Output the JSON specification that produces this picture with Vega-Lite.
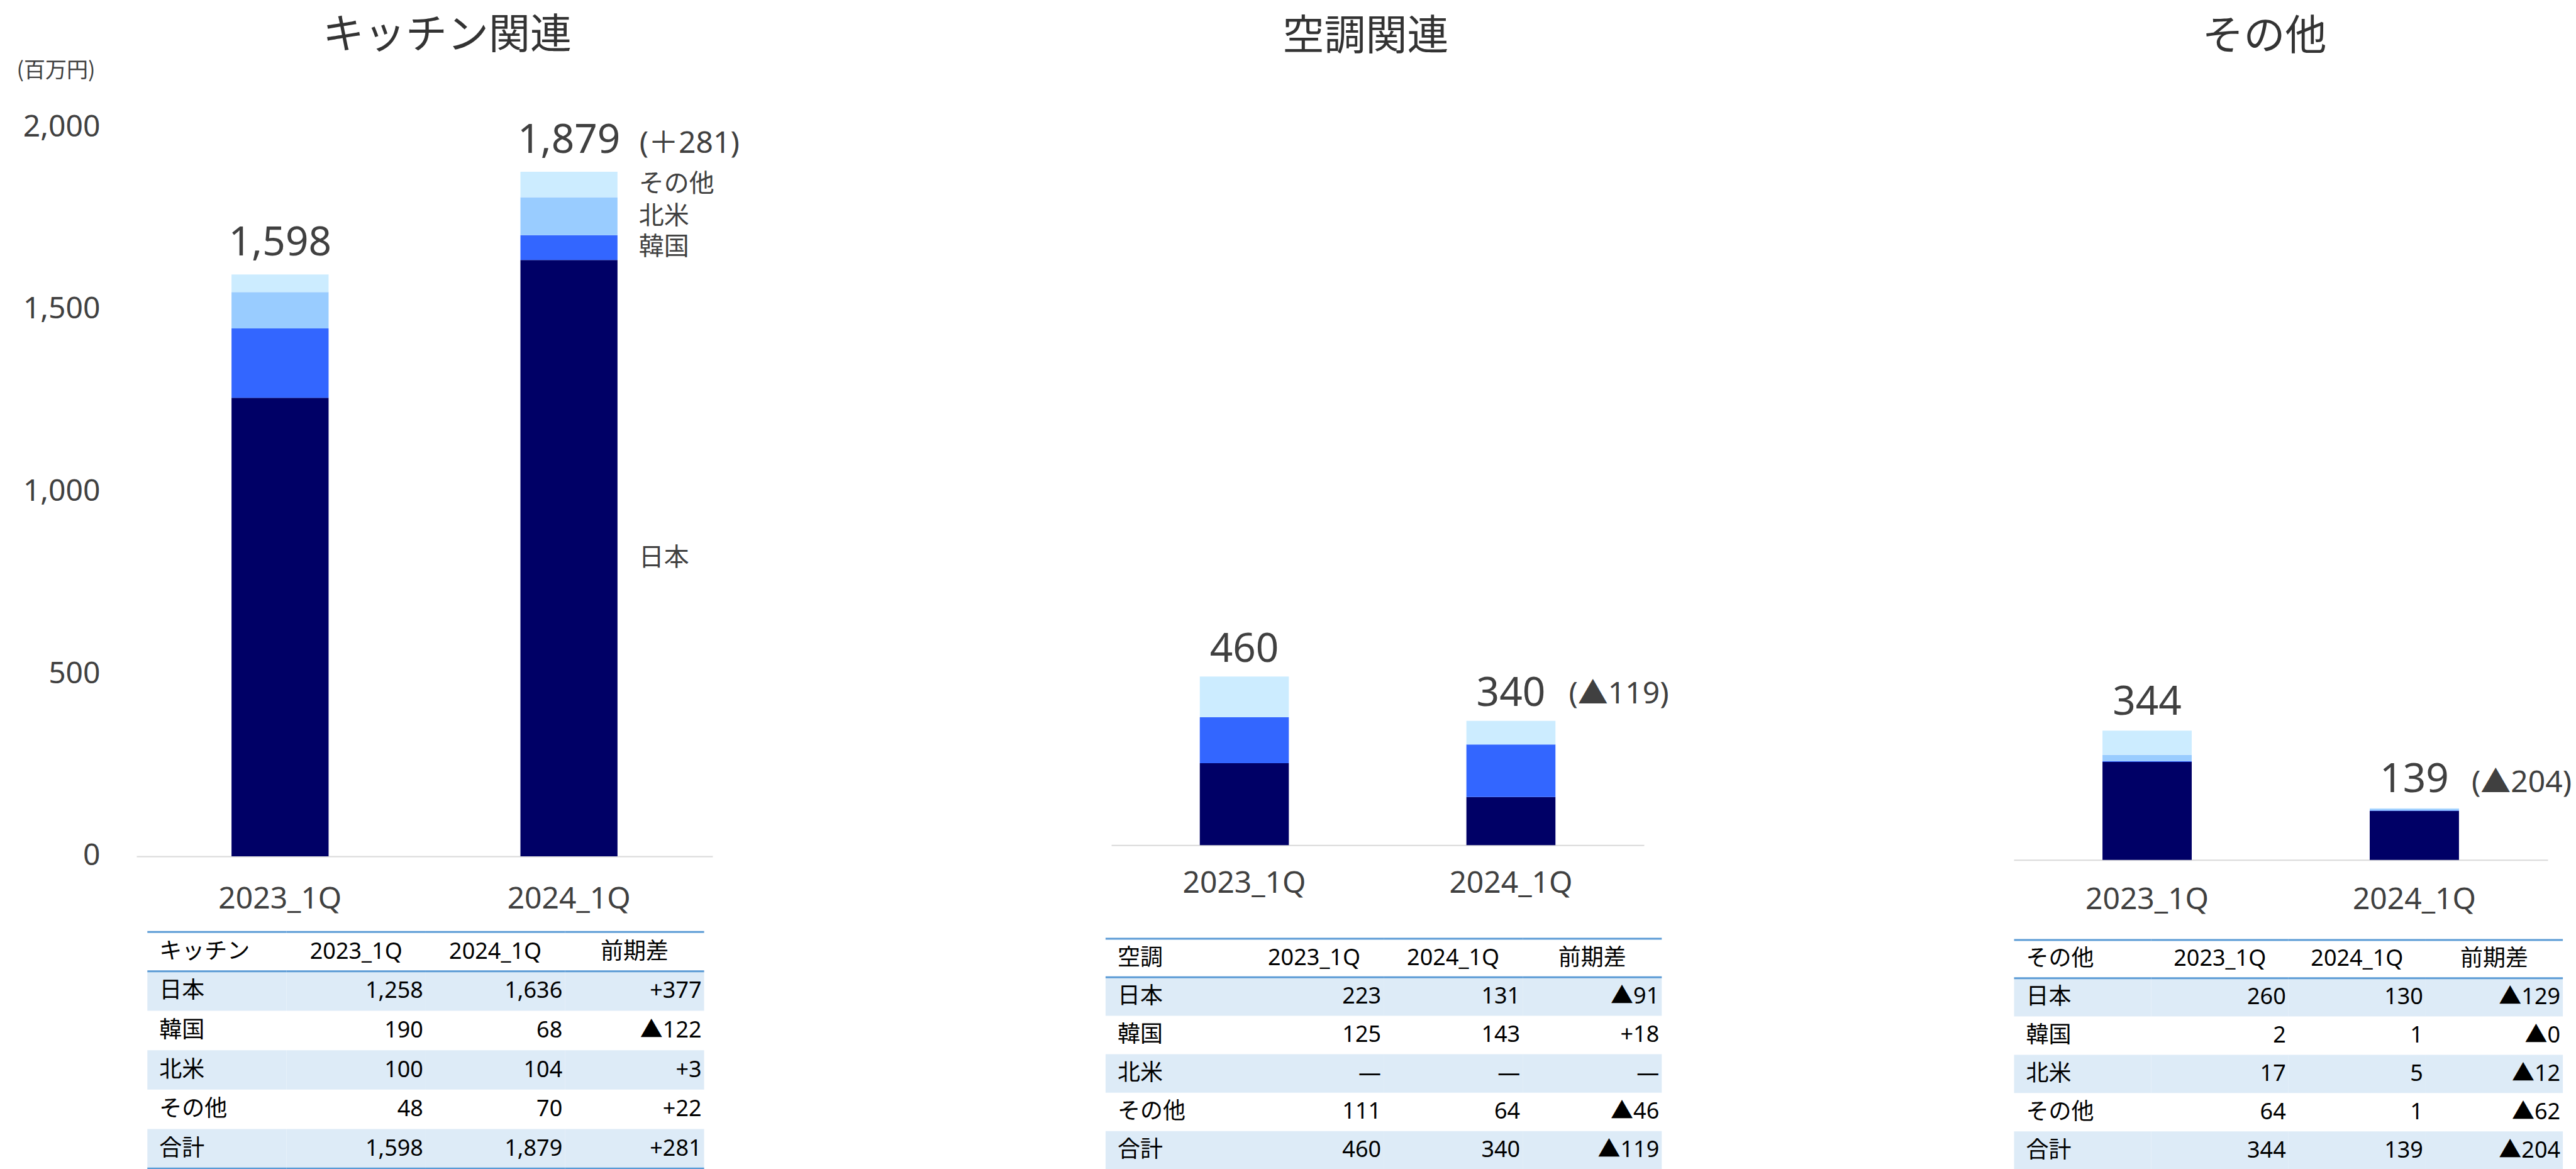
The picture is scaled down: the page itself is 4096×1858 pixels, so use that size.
{
"$schema": "https://vega.github.io/schema/vega-lite/v6.json",
"padding": {"left": 26, "top": 24, "right": 0, "bottom": 0},
"background": "white",
"bounds": "flush",
"spacing": 0,
"config": {"view": {"stroke": null}},
"datasets": {
"bars": [
{"seg":"キッチン","q":"2023_1Q","region":"日本","v":1258},
{"seg":"キッチン","q":"2023_1Q","region":"韓国","v":190},
{"seg":"キッチン","q":"2023_1Q","region":"北米","v":100},
{"seg":"キッチン","q":"2023_1Q","region":"その他","v":48},
{"seg":"キッチン","q":"2024_1Q","region":"日本","v":1636},
{"seg":"キッチン","q":"2024_1Q","region":"韓国","v":68},
{"seg":"キッチン","q":"2024_1Q","region":"北米","v":104},
{"seg":"キッチン","q":"2024_1Q","region":"その他","v":70},
{"seg":"空調","q":"2023_1Q","region":"日本","v":223},
{"seg":"空調","q":"2023_1Q","region":"韓国","v":125},
{"seg":"空調","q":"2023_1Q","region":"その他","v":111},
{"seg":"空調","q":"2024_1Q","region":"日本","v":131},
{"seg":"空調","q":"2024_1Q","region":"韓国","v":143},
{"seg":"空調","q":"2024_1Q","region":"その他","v":64},
{"seg":"その他","q":"2023_1Q","region":"日本","v":260},
{"seg":"その他","q":"2023_1Q","region":"韓国","v":2},
{"seg":"その他","q":"2023_1Q","region":"北米","v":17},
{"seg":"その他","q":"2023_1Q","region":"その他","v":64},
{"seg":"その他","q":"2024_1Q","region":"日本","v":130},
{"seg":"その他","q":"2024_1Q","region":"韓国","v":1},
{"seg":"その他","q":"2024_1Q","region":"北米","v":5},
{"seg":"その他","q":"2024_1Q","region":"その他","v":1}
],
"totals": [
{"seg":"キッチン","q":"2023_1Q","total":1598},
{"seg":"キッチン","q":"2024_1Q","total":1879,"diff":281},
{"seg":"空調","q":"2023_1Q","total":460},
{"seg":"空調","q":"2024_1Q","total":340,"diff":-119},
{"seg":"その他","q":"2023_1Q","total":344},
{"seg":"その他","q":"2024_1Q","total":139,"diff":-204}
],
"table": [
{"seg":"キッチン","r":"h","c":"label","t":"キッチン"},
{"seg":"キッチン","r":"h","c":"2023_1Q","t":"2023_1Q"},
{"seg":"キッチン","r":"h","c":"2024_1Q","t":"2024_1Q"},
{"seg":"キッチン","r":"h","c":"前期差","t":"前期差"},
{"seg":"キッチン","r":"日本","c":"label","t":"日本"},
{"seg":"キッチン","r":"日本","c":"2023_1Q","t":"1,258"},
{"seg":"キッチン","r":"日本","c":"2024_1Q","t":"1,636"},
{"seg":"キッチン","r":"日本","c":"前期差","t":"+377"},
{"seg":"キッチン","r":"韓国","c":"label","t":"韓国"},
{"seg":"キッチン","r":"韓国","c":"2023_1Q","t":"190"},
{"seg":"キッチン","r":"韓国","c":"2024_1Q","t":"68"},
{"seg":"キッチン","r":"韓国","c":"前期差","t":"▲122"},
{"seg":"キッチン","r":"北米","c":"label","t":"北米"},
{"seg":"キッチン","r":"北米","c":"2023_1Q","t":"100"},
{"seg":"キッチン","r":"北米","c":"2024_1Q","t":"104"},
{"seg":"キッチン","r":"北米","c":"前期差","t":"+3"},
{"seg":"キッチン","r":"その他","c":"label","t":"その他"},
{"seg":"キッチン","r":"その他","c":"2023_1Q","t":"48"},
{"seg":"キッチン","r":"その他","c":"2024_1Q","t":"70"},
{"seg":"キッチン","r":"その他","c":"前期差","t":"+22"},
{"seg":"キッチン","r":"合計","c":"label","t":"合計"},
{"seg":"キッチン","r":"合計","c":"2023_1Q","t":"1,598"},
{"seg":"キッチン","r":"合計","c":"2024_1Q","t":"1,879"},
{"seg":"キッチン","r":"合計","c":"前期差","t":"+281"},
{"seg":"空調","r":"h","c":"label","t":"空調"},
{"seg":"空調","r":"h","c":"2023_1Q","t":"2023_1Q"},
{"seg":"空調","r":"h","c":"2024_1Q","t":"2024_1Q"},
{"seg":"空調","r":"h","c":"前期差","t":"前期差"},
{"seg":"空調","r":"日本","c":"label","t":"日本"},
{"seg":"空調","r":"日本","c":"2023_1Q","t":"223"},
{"seg":"空調","r":"日本","c":"2024_1Q","t":"131"},
{"seg":"空調","r":"日本","c":"前期差","t":"▲91"},
{"seg":"空調","r":"韓国","c":"label","t":"韓国"},
{"seg":"空調","r":"韓国","c":"2023_1Q","t":"125"},
{"seg":"空調","r":"韓国","c":"2024_1Q","t":"143"},
{"seg":"空調","r":"韓国","c":"前期差","t":"+18"},
{"seg":"空調","r":"北米","c":"label","t":"北米"},
{"seg":"空調","r":"北米","c":"2023_1Q","t":"—"},
{"seg":"空調","r":"北米","c":"2024_1Q","t":"—"},
{"seg":"空調","r":"北米","c":"前期差","t":"—"},
{"seg":"空調","r":"その他","c":"label","t":"その他"},
{"seg":"空調","r":"その他","c":"2023_1Q","t":"111"},
{"seg":"空調","r":"その他","c":"2024_1Q","t":"64"},
{"seg":"空調","r":"その他","c":"前期差","t":"▲46"},
{"seg":"空調","r":"合計","c":"label","t":"合計"},
{"seg":"空調","r":"合計","c":"2023_1Q","t":"460"},
{"seg":"空調","r":"合計","c":"2024_1Q","t":"340"},
{"seg":"空調","r":"合計","c":"前期差","t":"▲119"},
{"seg":"その他","r":"h","c":"label","t":"その他"},
{"seg":"その他","r":"h","c":"2023_1Q","t":"2023_1Q"},
{"seg":"その他","r":"h","c":"2024_1Q","t":"2024_1Q"},
{"seg":"その他","r":"h","c":"前期差","t":"前期差"},
{"seg":"その他","r":"日本","c":"label","t":"日本"},
{"seg":"その他","r":"日本","c":"2023_1Q","t":"260"},
{"seg":"その他","r":"日本","c":"2024_1Q","t":"130"},
{"seg":"その他","r":"日本","c":"前期差","t":"▲129"},
{"seg":"その他","r":"韓国","c":"label","t":"韓国"},
{"seg":"その他","r":"韓国","c":"2023_1Q","t":"2"},
{"seg":"その他","r":"韓国","c":"2024_1Q","t":"1"},
{"seg":"その他","r":"韓国","c":"前期差","t":"▲0"},
{"seg":"その他","r":"北米","c":"label","t":"北米"},
{"seg":"その他","r":"北米","c":"2023_1Q","t":"17"},
{"seg":"その他","r":"北米","c":"2024_1Q","t":"5"},
{"seg":"その他","r":"北米","c":"前期差","t":"▲12"},
{"seg":"その他","r":"その他","c":"label","t":"その他"},
{"seg":"その他","r":"その他","c":"2023_1Q","t":"64"},
{"seg":"その他","r":"その他","c":"2024_1Q","t":"1"},
{"seg":"その他","r":"その他","c":"前期差","t":"▲62"},
{"seg":"その他","r":"合計","c":"label","t":"合計"},
{"seg":"その他","r":"合計","c":"2023_1Q","t":"344"},
{"seg":"その他","r":"合計","c":"2024_1Q","t":"139"},
{"seg":"その他","r":"合計","c":"前期差","t":"▲204"}
]
},
"hconcat": [
{
"width": 916, "height": 1661,
"title": {"text": "キッチン関連", "orient": "top", "anchor": "middle", "frame": "group", "baseline": "bottom", "offset": -62, "dx": 36, "fontSize": 66, "font": "Noto Sans CJK JP", "fontWeight": "normal", "color": "#333333"},
"layer": [
{"layer": [
{"data": {"name": "bars"},
 "transform": [{"filter": "datum.seg === 'キッチン'"}, {"calculate": "indexof(['日本','韓国','北米','その他'], datum.region)", "as": "k"}, {"stack": "v", "groupby": ["q"], "sort": [{"field": "k", "order": "ascending"}], "as": ["lo", "hi"]}],
 "mark": {"type": "bar"},
 "encoding": {
  "x": {"field": "q", "type": "nominal", "scale": {"type": "band", "domain": ["2023_1Q","2024_1Q"], "paddingInner": 0.664, "paddingOuter": 0.329},
        "axis": {"orient": "bottom", "offset": -498.1, "title": null, "labelFontSize": 48, "labelFont": "Noto Sans", "labelColor": "#404040", "labelPadding": 68.5, "labelBaseline": "middle", "labelAngle": 0, "labelLimit": 0, "ticks": false, "tickSize": 0, "domainColor": "#D9D9D9", "domainWidth": 2, "grid": false}},
  "y": {"field": "lo", "type": "quantitative", "scale": {"domain": [-859.8, 2007.4], "nice": false, "zero": false},
        "axis": {"orient": "left", "values": [0,500,1000,1500,2000], "format": ",.0f", "labelFontSize": 48, "labelFont": "Noto Sans", "labelColor": "#404040", "labelPadding": 58, "ticks": false, "tickSize": 0, "domain": false, "grid": false, "title": "(百万円)", "titleAngle": 0, "titleAlign": "left", "titleBaseline": "middle", "titleX": -191, "titleY": -86, "titleFontSize": 34, "titleFont": "Noto Sans CJK JP", "titleFontWeight": "normal", "titleColor": "#404040"}},
  "y2": {"field": "hi"},
  "color": {"field": "region", "type": "nominal", "scale": {"domain": ["日本","韓国","北米","その他"], "range": ["#000066","#3366FF","#99CCFF","#CCECFF"]}, "legend": null}
 }},
{"data": {"name": "totals"},
 "transform": [{"filter": "datum.seg === 'キッチン'"}],
 "mark": {"type": "text", "font": "Noto Sans", "fontSize": 64, "color": "#404040", "baseline": "alphabetic", "dy": -29},
 "encoding": {
  "x": {"field": "q", "type": "nominal"},
  "y": {"field": "total", "type": "quantitative", "scale": {"domain": [-859.8, 2007.4], "nice": false, "zero": false}},
  "text": {"field": "total", "type": "quantitative", "format": ","}
 }},
{"data": {"name": "totals"},
 "transform": [{"filter": "datum.seg === 'キッチン' && isValid(datum.diff)"}, {"calculate": "'(' + (datum.diff < 0 ? '▲' : '＋') + format(abs(datum.diff), ',') + ')'", "as": "lab"}],
 "mark": {"type": "text", "font": "Noto Sans, Noto Sans CJK JP", "fontSize": 48, "color": "#404040", "align": "left", "baseline": "alphabetic", "dx": 112, "dy": -29},
 "encoding": {
  "x": {"field": "q", "type": "nominal"},
  "y": {"field": "total", "type": "quantitative", "scale": {"domain": [-859.8, 2007.4], "nice": false, "zero": false}},
  "text": {"field": "lab", "type": "nominal"}
 }},
{"data": {"name": "bars"},
 "transform": [{"filter": "datum.seg === 'キッチン' && datum.q === '2024_1Q'"}, {"calculate": "indexof(['日本','韓国','北米','その他'], datum.region)", "as": "k"}, {"stack": "v", "groupby": ["q"], "sort": [{"field": "k", "order": "ascending"}], "as": ["lo", "hi"]}, {"calculate": "(datum.lo + datum.hi) / 2", "as": "mid"}],
 "mark": {"type": "text", "font": "Noto Sans CJK JP", "fontSize": 40, "color": "#404040", "align": "left", "baseline": "middle", "dx": 111},
 "encoding": {
  "x": {"field": "q", "type": "nominal"},
  "y": {"field": "mid", "type": "quantitative", "scale": {"domain": [-859.8, 2007.4], "nice": false, "zero": false}},
  "text": {"field": "region", "type": "nominal"}
 }}
]},
{"layer": [
{"data": {"name": "table"},
 "transform": [{"filter": "datum.seg === 'キッチン' && indexof(['日本','北米','合計'], datum.r) >= 0"}],
 "mark": {"type": "rect", "color": "#DDEBF7"},
 "encoding": {
  "x": {"field": "c", "type": "nominal", "scale": {"type": "band", "domain": ["label","2023_1Q","2024_1Q","前期差"], "paddingInner": 0, "paddingOuter": 0, "range": [17.3, 902.6]}, "axis": null},
  "y": {"field": "r", "type": "nominal", "scale": {"type": "band", "domain": ["h","日本","韓国","北米","その他","合計"], "paddingInner": 0, "paddingOuter": 0, "range": [1283.2, 1659.2]}, "axis": null}
 }},
{"data": {"name": "table"},
 "transform": [{"filter": "datum.seg === 'キッチン' && (datum.r === 'h' || datum.r === '日本')"}],
 "mark": {"type": "rule", "color": "#5B9BD5", "strokeWidth": 3},
 "encoding": {
  "x": {"field": "c", "type": "nominal", "bandPosition": 0},
  "x2": {"field": "c", "bandPosition": 1},
  "y": {"field": "r", "type": "nominal", "bandPosition": 0}
 }},
{"data": {"name": "table"},
 "transform": [{"filter": "datum.seg === 'キッチン' && datum.r === '合計'"}],
 "mark": {"type": "rule", "color": "#5B9BD5", "strokeWidth": 3},
 "encoding": {
  "x": {"field": "c", "type": "nominal", "bandPosition": 0},
  "x2": {"field": "c", "bandPosition": 1},
  "y": {"field": "r", "type": "nominal", "bandPosition": 1}
 }},
{"data": {"name": "table"},
 "transform": [{"filter": "datum.seg === 'キッチン' && datum.c === 'label'"}],
 "mark": {"type": "text", "font": "Noto Sans CJK JP", "fontSize": 36, "color": "#000000", "align": "left", "baseline": "middle", "dx": 19},
 "encoding": {
  "x": {"field": "c", "type": "nominal", "bandPosition": 0},
  "y": {"field": "r", "type": "nominal"},
  "text": {"field": "t"}
 }},
{"data": {"name": "table"},
 "transform": [{"filter": "datum.seg === 'キッチン' && datum.r === 'h' && datum.c !== 'label'"}],
 "mark": {"type": "text", "font": "Noto Sans, Noto Sans CJK JP", "fontSize": 36, "color": "#000000", "align": "center", "baseline": "middle"},
 "encoding": {
  "x": {"field": "c", "type": "nominal", "bandPosition": 0.5},
  "y": {"field": "r", "type": "nominal"},
  "text": {"field": "t"}
 }},
{"data": {"name": "table"},
 "transform": [{"filter": "datum.seg === 'キッチン' && datum.r !== 'h' && datum.c !== 'label'"}],
 "mark": {"type": "text", "font": "Noto Sans, Noto Sans CJK JP", "fontSize": 36, "color": "#000000", "align": "right", "baseline": "middle", "dx": -4},
 "encoding": {
  "x": {"field": "c", "type": "nominal", "bandPosition": 1},
  "y": {"field": "r", "type": "nominal"},
  "text": {"field": "t"}
 }}
]}
],
"resolve": {"scale": {"x": "independent", "y": "independent"}}
},
{"width": 634, "height": 10, "data": {"values": []}, "mark": "point"},
{
"width": 847, "height": 1661,
"title": {"text": "空調関連", "orient": "top", "anchor": "middle", "frame": "group", "baseline": "bottom", "offset": 39, "dx": -19, "fontSize": 66, "font": "Noto Sans CJK JP", "fontWeight": "normal", "color": "#333333"},
"layer": [
{"layer": [
{"data": {"name": "bars"},
 "transform": [{"filter": "datum.seg === '空調'"}, {"calculate": "indexof(['日本','韓国','北米','その他'], datum.region)", "as": "k"}, {"stack": "v", "groupby": ["q"], "sort": [{"field": "k", "order": "ascending"}], "as": ["lo", "hi"]}],
 "mark": {"type": "bar"},
 "encoding": {
  "x": {"field": "q", "type": "nominal", "scale": {"type": "band", "domain": ["2023_1Q","2024_1Q"], "paddingInner": 0.666, "paddingOuter": 0.332},
        "axis": {"orient": "bottom", "offset": -515.8, "title": null, "labelFontSize": 48, "labelFont": "Noto Sans", "labelColor": "#404040", "labelPadding": 61.7, "labelBaseline": "middle", "labelAngle": 0, "labelLimit": 0, "ticks": false, "tickSize": 0, "domainColor": "#D9D9D9", "domainWidth": 2, "grid": false}},
  "y": {"field": "lo", "type": "quantitative", "scale": {"domain": [-883.2, 1961], "nice": false, "zero": false}, "axis": null},
  "y2": {"field": "hi"},
  "color": {"field": "region", "type": "nominal", "scale": {"domain": ["日本","韓国","その他"], "range": ["#000066","#3366FF","#99CCFF"]}, "legend": null}
 }},
{"data": {"name": "totals"},
 "transform": [{"filter": "datum.seg === '空調'"}],
 "mark": {"type": "text", "font": "Noto Sans", "fontSize": 64, "color": "#404040", "baseline": "alphabetic", "dy": -22.5},
 "encoding": {
  "x": {"field": "q", "type": "nominal"},
  "y": {"field": "total", "type": "quantitative", "scale": {"domain": [-883.2, 1961], "nice": false, "zero": false}},
  "text": {"field": "total", "type": "quantitative", "format": ","}
 }},
{"data": {"name": "totals"},
 "transform": [{"filter": "datum.seg === '空調' && isValid(datum.diff)"}, {"calculate": "'(' + (datum.diff < 0 ? '▲' : '＋') + format(abs(datum.diff), ',') + ')'", "as": "lab"}],
 "mark": {"type": "text", "font": "Noto Sans, Noto Sans CJK JP", "fontSize": 48, "color": "#404040", "align": "left", "baseline": "alphabetic", "dx": 92, "dy": -27},
 "encoding": {
  "x": {"field": "q", "type": "nominal"},
  "y": {"field": "total", "type": "quantitative", "scale": {"domain": [-883.2, 1961], "nice": false, "zero": false}},
  "text": {"field": "lab", "type": "nominal"}
 }}
]},
{"layer": [
{"data": {"name": "table"},
 "transform": [{"filter": "datum.seg === '空調' && indexof(['日本','北米','合計'], datum.r) >= 0"}],
 "mark": {"type": "rect", "color": "#DDEBF7"},
 "encoding": {
  "x": {"field": "c", "type": "nominal", "scale": {"type": "band", "domain": ["label","2023_1Q","2024_1Q","前期差"], "paddingInner": 0, "paddingOuter": 0, "range": [-9.1, 875.3]}, "axis": null},
  "y": {"field": "r", "type": "nominal", "scale": {"type": "band", "domain": ["h","日本","韓国","北米","その他","合計"], "paddingInner": 0, "paddingOuter": 0, "range": [1294.1, 1661]}, "axis": null}
 }},
{"data": {"name": "table"},
 "transform": [{"filter": "datum.seg === '空調' && (datum.r === 'h' || datum.r === '日本')"}],
 "mark": {"type": "rule", "color": "#5B9BD5", "strokeWidth": 3},
 "encoding": {
  "x": {"field": "c", "type": "nominal", "bandPosition": 0},
  "x2": {"field": "c", "bandPosition": 1},
  "y": {"field": "r", "type": "nominal", "bandPosition": 0}
 }},
{"data": {"name": "table"},
 "transform": [{"filter": "datum.seg === '空調' && datum.c === 'label'"}],
 "mark": {"type": "text", "font": "Noto Sans CJK JP", "fontSize": 36, "color": "#000000", "align": "left", "baseline": "middle", "dx": 19},
 "encoding": {
  "x": {"field": "c", "type": "nominal", "bandPosition": 0},
  "y": {"field": "r", "type": "nominal"},
  "text": {"field": "t"}
 }},
{"data": {"name": "table"},
 "transform": [{"filter": "datum.seg === '空調' && datum.r === 'h' && datum.c !== 'label'"}],
 "mark": {"type": "text", "font": "Noto Sans, Noto Sans CJK JP", "fontSize": 36, "color": "#000000", "align": "center", "baseline": "middle"},
 "encoding": {
  "x": {"field": "c", "type": "nominal", "bandPosition": 0.5},
  "y": {"field": "r", "type": "nominal"},
  "text": {"field": "t"}
 }},
{"data": {"name": "table"},
 "transform": [{"filter": "datum.seg === '空調' && datum.r !== 'h' && datum.c !== 'label'"}],
 "mark": {"type": "text", "font": "Noto Sans, Noto Sans CJK JP", "fontSize": 36, "color": "#000000", "align": "right", "baseline": "middle", "dx": -4},
 "encoding": {
  "x": {"field": "c", "type": "nominal", "bandPosition": 1},
  "y": {"field": "r", "type": "nominal"},
  "text": {"field": "t"}
 }}
]}
],
"resolve": {"scale": {"x": "independent", "y": "independent"}}
},
{"width": 588, "height": 10, "data": {"values": []}, "mark": "point"},
{
"width": 849, "height": 1661,
"title": {"text": "その他", "orient": "top", "anchor": "middle", "frame": "group", "baseline": "bottom", "offset": 39, "dx": -26, "fontSize": 66, "font": "Noto Sans CJK JP", "fontWeight": "normal", "color": "#333333"},
"layer": [
{"layer": [
{"data": {"name": "bars"},
 "transform": [{"filter": "datum.seg === 'その他'"}, {"calculate": "indexof(['日本','韓国','北米','その他'], datum.region)", "as": "k"}, {"stack": "v", "groupby": ["q"], "sort": [{"field": "k", "order": "ascending"}], "as": ["lo", "hi"]}],
 "mark": {"type": "bar"},
 "encoding": {
  "x": {"field": "q", "type": "nominal", "scale": {"type": "band", "domain": ["2023_1Q","2024_1Q"], "paddingInner": 0.666, "paddingOuter": 0.332},
        "axis": {"orient": "bottom", "offset": -492.2, "title": null, "labelFontSize": 48, "labelFont": "Noto Sans", "labelColor": "#404040", "labelPadding": 63.7, "labelBaseline": "middle", "labelAngle": 0, "labelLimit": 0, "ticks": false, "tickSize": 0, "domainColor": "#D9D9D9", "domainWidth": 2, "grid": false}},
  "y": {"field": "lo", "type": "quantitative", "scale": {"domain": [-821.7, 1951.3], "nice": false, "zero": false}, "axis": null},
  "y2": {"field": "hi"},
  "color": {"field": "region", "type": "nominal", "scale": {"domain": ["日本","韓国","北米","その他"], "range": ["#000066","#3366FF","#99CCFF","#CCECFF"]}, "legend": null}
 }},
{"data": {"name": "totals"},
 "transform": [{"filter": "datum.seg === 'その他'"}],
 "mark": {"type": "text", "font": "Noto Sans", "fontSize": 64, "color": "#404040", "baseline": "alphabetic", "dy": -25},
 "encoding": {
  "x": {"field": "q", "type": "nominal"},
  "y": {"field": "total", "type": "quantitative", "scale": {"domain": [-821.7, 1951.3], "nice": false, "zero": false}},
  "text": {"field": "total", "type": "quantitative", "format": ","}
 }},
{"data": {"name": "totals"},
 "transform": [{"filter": "datum.seg === 'その他' && isValid(datum.diff)"}, {"calculate": "'(' + (datum.diff < 0 ? '▲' : '＋') + format(abs(datum.diff), ',') + ')'", "as": "lab"}],
 "mark": {"type": "text", "font": "Noto Sans, Noto Sans CJK JP", "fontSize": 48, "color": "#404040", "align": "left", "baseline": "alphabetic", "dx": 91, "dy": -25},
 "encoding": {
  "x": {"field": "q", "type": "nominal"},
  "y": {"field": "total", "type": "quantitative", "scale": {"domain": [-821.7, 1951.3], "nice": false, "zero": false}},
  "text": {"field": "lab", "type": "nominal"}
 }}
]},
{"layer": [
{"data": {"name": "table"},
 "transform": [{"filter": "datum.seg === 'その他' && indexof(['日本','北米','合計'], datum.r) >= 0"}],
 "mark": {"type": "rect", "color": "#DDEBF7"},
 "encoding": {
  "x": {"field": "c", "type": "nominal", "scale": {"type": "band", "domain": ["label","2023_1Q","2024_1Q","前期差"], "paddingInner": 0, "paddingOuter": 0, "range": [0.5, 873.1]}, "axis": null},
  "y": {"field": "r", "type": "nominal", "scale": {"type": "band", "domain": ["h","日本","韓国","北米","その他","合計"], "paddingInner": 0, "paddingOuter": 0, "range": [1295.9, 1661]}, "axis": null}
 }},
{"data": {"name": "table"},
 "transform": [{"filter": "datum.seg === 'その他' && (datum.r === 'h' || datum.r === '日本')"}],
 "mark": {"type": "rule", "color": "#5B9BD5", "strokeWidth": 3},
 "encoding": {
  "x": {"field": "c", "type": "nominal", "bandPosition": 0},
  "x2": {"field": "c", "bandPosition": 1},
  "y": {"field": "r", "type": "nominal", "bandPosition": 0}
 }},
{"data": {"name": "table"},
 "transform": [{"filter": "datum.seg === 'その他' && datum.c === 'label'"}],
 "mark": {"type": "text", "font": "Noto Sans CJK JP", "fontSize": 36, "color": "#000000", "align": "left", "baseline": "middle", "dx": 19},
 "encoding": {
  "x": {"field": "c", "type": "nominal", "bandPosition": 0},
  "y": {"field": "r", "type": "nominal"},
  "text": {"field": "t"}
 }},
{"data": {"name": "table"},
 "transform": [{"filter": "datum.seg === 'その他' && datum.r === 'h' && datum.c !== 'label'"}],
 "mark": {"type": "text", "font": "Noto Sans, Noto Sans CJK JP", "fontSize": 36, "color": "#000000", "align": "center", "baseline": "middle"},
 "encoding": {
  "x": {"field": "c", "type": "nominal", "bandPosition": 0.5},
  "y": {"field": "r", "type": "nominal"},
  "text": {"field": "t"}
 }},
{"data": {"name": "table"},
 "transform": [{"filter": "datum.seg === 'その他' && datum.r !== 'h' && datum.c !== 'label'"}],
 "mark": {"type": "text", "font": "Noto Sans, Noto Sans CJK JP", "fontSize": 36, "color": "#000000", "align": "right", "baseline": "middle", "dx": -4},
 "encoding": {
  "x": {"field": "c", "type": "nominal", "bandPosition": 1},
  "y": {"field": "r", "type": "nominal"},
  "text": {"field": "t"}
 }}
]}
],
"resolve": {"scale": {"x": "independent", "y": "independent"}}
}
]
}
